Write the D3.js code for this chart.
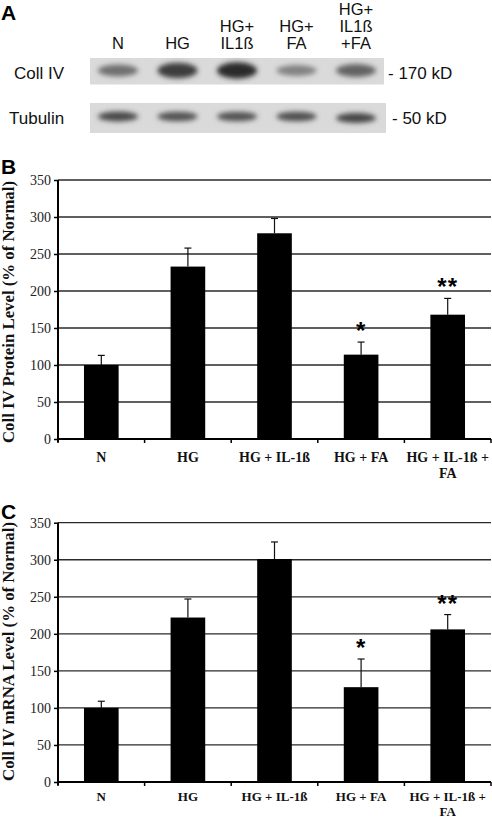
<!DOCTYPE html>
<html>
<head>
<meta charset="utf-8">
<script src="https://cdn.jsdelivr.net/npm/d3@7"></script>
<style>
  html, body { margin: 0; padding: 0; background: #fff; }
  svg { display: block; }
</style>
</head>
<body>
<script>
// ---------- DATA ----------
const laneLabels = [["N"], ["HG"], ["HG+", "IL1ß"], ["HG+", "FA"], ["HG+", "IL1ß", "+FA"]];
const collIVBand = [0.55, 0.85, 0.95, 0.45, 0.62];   // relative band intensity (Coll IV, 170 kD)
const tubulinBand = [0.78, 0.72, 0.72, 0.74, 0.80];  // relative band intensity (Tubulin, 50 kD)
const blotRows = ["Coll IV", "Tubulin"];
const blotSizes = ["- 170 kD", "- 50 kD"];

const categories = ["N", "HG", "HG + IL-1ß", "HG + FA", "HG + IL-1ß + FA"];
const categoryLines = [["N"], ["HG"], ["HG + IL-1ß"], ["HG + FA"], ["HG + IL-1ß +", "FA"]];
const proteinMean = [100, 233, 278, 114, 168];
const proteinErr = [13, 25, 20, 17, 22];
const mrnaMean = [100, 222, 301, 128, 206];
const mrnaErr = [9, 25, 23, 38, 20];
const significance = ["", "", "", "*", "**"];
const yTicks = [0, 50, 100, 150, 200, 250, 300, 350];

// ---------- SETUP ----------
const W = 492, H = 819;
const svg = d3.select("body").append("svg").attr("width", W).attr("height", H);
svg.append("rect").attr("width", W).attr("height", H).attr("fill", "#fff");

const defs = svg.append("defs");
defs.append("filter").attr("id", "blur").attr("x", "-30%").attr("y", "-80%")
  .attr("width", "160%").attr("height", "260%")
  .append("feGaussianBlur").attr("stdDeviation", 2.6);

const sans = "Arial, 'Liberation Sans', Helvetica, sans-serif";
const serif = "'Times New Roman', 'Liberation Serif', Times, serif";

function letter(ch, y) {
  svg.append("text").attr("x", 1).attr("y", y).text(ch)
    .style("font-family", sans).style("font-weight", "bold").style("font-size", "21px")
    .attr("fill", "#000");
}

// ---------- PANEL A (western blot) ----------
letter("A", 20);

const lane = d3.scalePoint().domain(d3.range(laneLabels.length)).range([118, 356]);

const laneG = svg.append("g");
laneLabels.forEach((lines, i) => {
  const t = laneG.append("text").attr("text-anchor", "middle")
    .style("font-family", sans).style("font-size", "16.5px").attr("fill", "#111");
  lines.forEach((ln, j) => {
    t.append("tspan").attr("x", lane(i))
      .attr("y", 48.5 - (lines.length - 1 - j) * 16.8).text(ln);
  });
});

const rowBoxes = [
  { y0: 58, y1: 84.5, x0: 90, x1: 384, cy: 70.5, data: collIVBand, base: 3, grow: 5.5 },
  { y0: 103, y1: 133, x0: 90, x1: 386, cy: 116.5, data: tubulinBand, base: 2.5, grow: 3.2 }
];
const bandColor = d3.interpolateRgb("#d0d0d0", "#222");
rowBoxes.forEach((r, k) => {
  svg.append("rect").attr("x", r.x0).attr("y", r.y0)
    .attr("width", r.x1 - r.x0).attr("height", r.y1 - r.y0).attr("fill", "#dadada");
  const g = svg.append("g").attr("filter", "url(#blur)");
  g.selectAll("ellipse").data(r.data).join("ellipse")
    .attr("cx", (d, i) => lane(i))
    .attr("cy", (d, i) => r.cy + (k === 1 && i === 4 ? 1.5 : 0))
    .attr("rx", 20)
    .attr("ry", d => r.base + r.grow * d)
    .attr("fill", d => bandColor(d));
  svg.append("text").attr("x", k === 0 ? 14 : 9).attr("y", k === 0 ? 79 : 124)
    .style("font-family", sans).style("font-size", "17px").attr("fill", "#111").text(blotRows[k]);
  svg.append("text").attr("x", k === 0 ? 388 : 392).attr("y", k === 0 ? 79 : 124)
    .style("font-family", sans).style("font-size", "17px").attr("fill", "#111").text(blotSizes[k]);
});

// ---------- BAR CHART FUNCTION ----------
function barChart(cfg) {
  const g = svg.append("g");
  const x = d3.scaleBand().domain(categories).range([58, 491])
    .paddingInner(0.6).paddingOuter(0.3);
  const y = d3.scaleLinear().domain([0, 350]).range([cfg.bottom, cfg.top]);
  const step = x.step();

  letter(cfg.letter, cfg.letterY);

  // gridlines
  g.append("g").selectAll("line").data(yTicks.filter(t => t > 0)).join("line")
    .attr("x1", 58).attr("x2", 491)
    .attr("y1", d => y(d)).attr("y2", d => y(d))
    .attr("stroke", "#2a2a2a").attr("stroke-width", 1.3);

  // bars
  g.append("g").selectAll("rect").data(cfg.mean).join("rect")
    .attr("x", (d, i) => x(categories[i]))
    .attr("width", x.bandwidth())
    .attr("y", d => y(d))
    .attr("height", d => y(0) - y(d))
    .attr("fill", "#000");

  // error bars (upper only)
  const eg = g.append("g").attr("stroke", "#111").attr("stroke-width", 1.2);
  cfg.mean.forEach((m, i) => {
    const cx = x(categories[i]) + x.bandwidth() / 2;
    eg.append("line").attr("x1", cx).attr("x2", cx).attr("y1", y(m)).attr("y2", y(m + cfg.err[i]));
    eg.append("line").attr("x1", cx - 3.5).attr("x2", cx + 3.5)
      .attr("y1", y(m + cfg.err[i])).attr("y2", y(m + cfg.err[i]));
    if (significance[i]) {
      g.append("text").attr("x", cx).attr("y", y(m + cfg.err[i]) - 3)
        .attr("text-anchor", "middle")
        .style("font-family", sans).style("font-weight", "bold").style("font-size", "24px")
        .attr("letter-spacing", 1).attr("fill", "#000")
        .text(significance[i]);
    }
  });

  // y axis
  const yAxis = d3.axisLeft(y).tickValues(yTicks).tickSize(4).tickPadding(3);
  const ya = g.append("g").attr("transform", "translate(58,0)").call(yAxis);
  ya.select(".domain").attr("stroke", "#000").attr("stroke-width", 2)
    .attr("d", `M0,${cfg.top}V${cfg.bottom + 3}`);
  ya.selectAll(".tick line").attr("stroke", "#000").attr("stroke-width", 1.5);
  ya.selectAll(".tick text").style("font-family", serif).style("font-size", "14px").attr("fill", "#222");

  // x axis
  const xa = g.append("g");
  xa.append("line").attr("x1", 57).attr("x2", 491).attr("y1", y(0)).attr("y2", y(0))
    .attr("stroke", "#000").attr("stroke-width", 2);
  xa.selectAll("line.tk").data(d3.range(categories.length + 1)).join("line").attr("class", "tk")
    .attr("x1", i => 58 + step * i).attr("x2", i => 58 + step * i)
    .attr("y1", y(0)).attr("y2", y(0) + 4)
    .attr("stroke", "#000").attr("stroke-width", 1.5);
  categoryLines.forEach((lines, i) => {
    lines.forEach((ln, j) => {
      xa.append("text").attr("text-anchor", "middle")
        .style("font-family", serif).style("font-weight", "bold").style("font-size", cfg.labelSize + "px")
        .attr("fill", "#111")
        .attr("x", x(categories[i]) + x.bandwidth() / 2)
        .attr("y", cfg.labelY + j * cfg.labelGap).text(ln);
    });
  });

  // y label
  g.append("text")
    .attr("transform", `translate(14,${cfg.ylabCenter}) rotate(-90)`)
    .attr("text-anchor", "middle")
    .style("font-family", serif).style("font-weight", "bold").style("font-size", "17px")
    .attr("fill", "#111")
    .attr("textLength", cfg.ylabLen).attr("lengthAdjust", "spacingAndGlyphs")
    .text(cfg.ylab);
}

barChart({
  letter: "B", letterY: 174, top: 180, bottom: 439,
  mean: proteinMean, err: proteinErr, labelY: 461.5, labelGap: 16, labelSize: 14,
  ylab: "Coll IV Protein Level (% of Normal)", ylabCenter: 312, ylabLen: 262
});
barChart({
  letter: "C", letterY: 519, top: 522.7, bottom: 782,
  mean: mrnaMean, err: mrnaErr, labelY: 801, labelGap: 14.5, labelSize: 13,
  ylab: "Coll IV mRNA Level (% of Normal)", ylabCenter: 651.5, ylabLen: 259
});
</script>
</body>
</html>
